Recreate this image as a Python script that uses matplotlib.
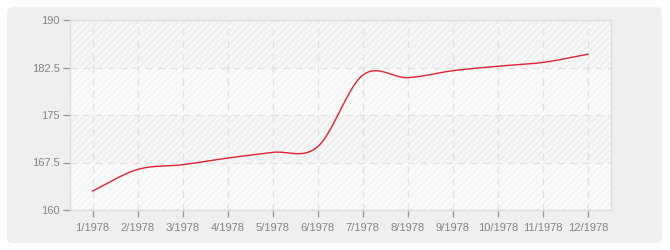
import numpy as np
import matplotlib
matplotlib.use("Agg")
import matplotlib.pyplot as plt
from matplotlib.patches import FancyBboxPatch
from matplotlib.transforms import IdentityTransform

months = ["1/1978", "2/1978", "3/1978", "4/1978", "5/1978", "6/1978",
          "7/1978", "8/1978", "9/1978", "10/1978", "11/1978", "12/1978"]
values = [163.0, 166.4, 167.15, 168.2, 169.1, 170.0,
          181.3, 180.9, 182.0, 182.7, 183.3, 184.6]
yticks = [160, 167.5, 175, 182.5, 190]
ylabels = ["160", "167.5", "175", "182.5", "190"]


def catmull_rom(y, steps=40):
    # smooth line through the points (x = 0, 1, 2, ...)
    y = np.asarray(y, float)
    n = len(y)
    m = np.zeros(n)
    m[1:-1] = (y[2:] - y[:-2]) / 2
    m[0] = y[1] - y[0]
    m[-1] = y[-1] - y[-2]
    xs, ys = [], []
    t = np.linspace(0, 1, steps, endpoint=False)
    h00 = 2 * t**3 - 3 * t**2 + 1
    h10 = t**3 - 2 * t**2 + t
    h01 = -2 * t**3 + 3 * t**2
    h11 = t**3 - t**2
    for i in range(n - 1):
        xs.extend(i + t)
        ys.extend(h00 * y[i] + h10 * m[i] + h01 * y[i + 1] + h11 * m[i + 1])
    xs.append(n - 1)
    ys.append(y[-1])
    return np.array(xs), np.array(ys)


plt.rcParams['font.family'] = ['Liberation Sans', 'DejaVu Sans']

fig = plt.figure(figsize=(6.7, 2.5), dpi=100)
fig.patch.set_facecolor("white")

box = FancyBboxPatch((7, 7), 655, 236, boxstyle="round,pad=0,rounding_size=6",
                     transform=IdentityTransform(), facecolor="#efefef",
                     edgecolor="none", zorder=-10)
fig.patches.append(box)

ax = fig.add_axes([70 / 670, 40 / 250, 540.5 / 670, 190 / 250])
ax.set_facecolor("#fbfbfb")

x = np.arange(len(months))
ax.set_xlim(-0.5, len(months) - 0.5)
ax.set_ylim(160, 190)

# alternating bands
for i in range(len(yticks) - 1):
    if i % 2 == 1:
        ax.axhspan(yticks[i], yticks[i + 1], facecolor="#f7f7f7",
                   edgecolor="#ececec", hatch="/////", linewidth=0, zorder=0)
    else:
        ax.axhspan(yticks[i], yticks[i + 1], facecolor="#fbfbfb",
                   edgecolor="#f3f3f3", hatch="/////", linewidth=0, zorder=0)

ax.grid(True, color="#e2e2e2", linestyle=(0, (5, 4)), linewidth=1)
ax.set_axisbelow(True)

xs, ys = catmull_rom(values)
ax.plot(xs, ys, color="#dd2233", linewidth=1, zorder=3)

ax.set_xticks(x)
ax.set_xticklabels(months)
ax.set_yticks(yticks)
ax.set_yticklabels(ylabels)
ax.tick_params(axis="both", colors="#999999", labelcolor="#858585",
               labelsize=8, length=5, width=1, direction="out")
ax.tick_params(axis="x", pad=4.5)
ax.tick_params(axis="y", pad=2.5)

for s in ax.spines.values():
    s.set_color("#dddddd")
    s.set_linewidth(1)

fig.savefig("out.png", dpi=100)
